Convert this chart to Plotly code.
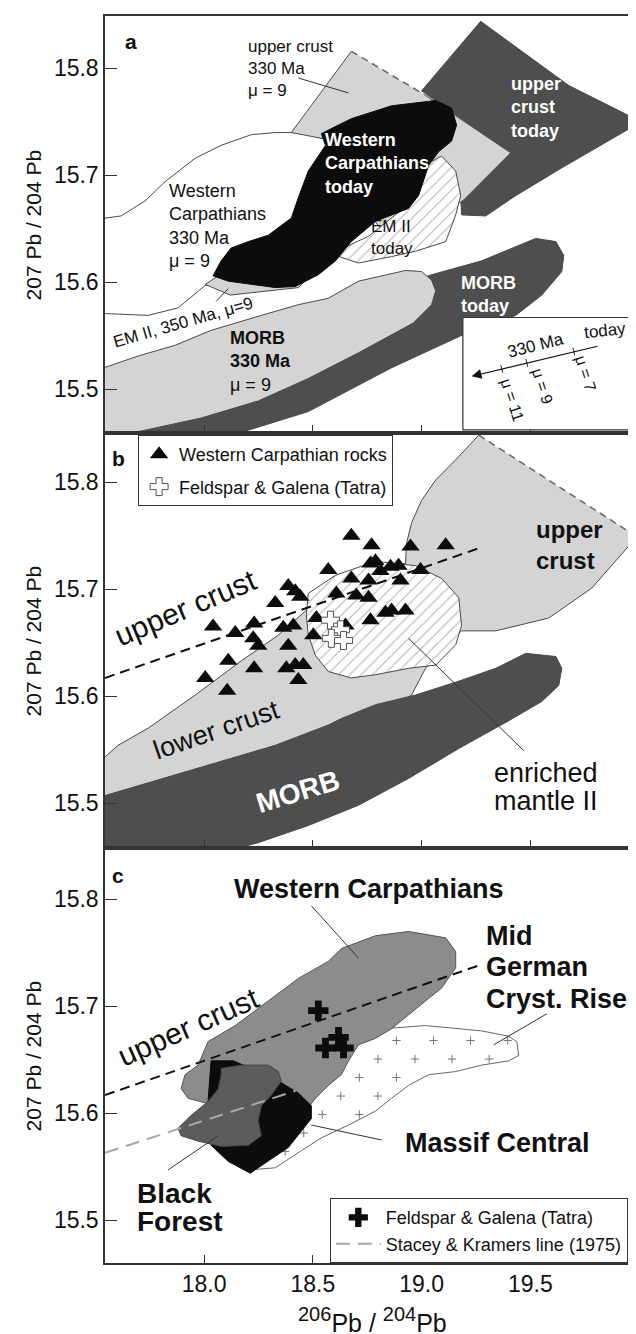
import plotly.graph_objects as go

# ------------------------------------------------------------------ data
# x = 206Pb/204Pb, y = 207Pb/204Pb

# ---- panel a
a_uc_today_x = [19.000, 19.272, 19.677, 20.010, 19.645, 19.433, 19.295, 19.184, 19.180, 19.401]
a_uc_today_y = [15.779, 15.844, 15.784, 15.750, 15.707, 15.681, 15.662, 15.663, 15.681, 15.721]

a_wc330_x = [17.51, 17.618, 17.728, 17.820, 17.959, 18.078, 18.217, 18.327, 18.447, 18.571, 18.618,
             18.479, 18.249, 18.005, 17.880, 17.742, 17.51]
a_wc330_y = [15.659, 15.662, 15.676, 15.694, 15.716, 15.728, 15.738, 15.740, 15.740, 15.733, 15.707,
             15.650, 15.604, 15.597, 15.576, 15.569, 15.571]

a_uc330_x = [19.009, 19.410, 19.194, 19.032, 18.848, 18.664, 18.581, 18.401, 18.677]
a_uc330_y = [15.776, 15.721, 15.677, 15.655, 15.641, 15.688, 15.733, 15.740, 15.816]

a_em350_x = [18.005, 18.120, 18.433, 18.618, 18.479, 18.157]
a_em350_y = [15.598, 15.588, 15.595, 15.632, 15.646, 15.618]

a_emt_x = [18.604, 18.710, 18.862, 18.972, 19.111, 19.157, 19.180, 19.157, 19.092, 19.009, 18.917, 18.756, 18.641]
a_emt_y = [15.625, 15.618, 15.624, 15.629, 15.638, 15.663, 15.681, 15.704, 15.718, 15.709, 15.669, 15.643, 15.632]

a_wct_x = [18.041, 18.078, 18.124, 18.203, 18.295, 18.401, 18.433, 18.479, 18.558, 18.539, 18.677, 18.862,
           19.065, 19.138, 19.161, 19.138, 19.078, 19.032, 18.986, 18.940, 18.788, 18.677, 18.604, 18.525,
           18.419, 18.327, 18.111]
a_wct_y = [15.606, 15.620, 15.632, 15.638, 15.644, 15.660, 15.679, 15.704, 15.728, 15.739, 15.753, 15.765,
           15.770, 15.763, 15.747, 15.732, 15.722, 15.709, 15.681, 15.669, 15.657, 15.638, 15.620, 15.607,
           15.596, 15.595, 15.601]

a_morbt_x = [17.51, 18.018, 18.479, 18.862, 19.203, 19.433, 19.553, 19.645, 19.654, 19.618, 19.525, 19.276,
             19.046, 18.710, 18.249, 17.51]
a_morbt_y = [15.450, 15.450, 15.479, 15.520, 15.552, 15.569, 15.588, 15.610, 15.625, 15.638, 15.641, 15.620,
             15.607, 15.585, 15.538, 15.482]

a_morb330_x = [17.51, 17.696, 17.866, 18.032, 18.263, 18.433, 18.571, 18.710, 18.926, 19.000, 19.046, 19.065,
               19.046, 18.963, 18.710, 18.479, 18.249, 17.986, 17.51]
a_morb330_y = [15.518, 15.531, 15.541, 15.555, 15.569, 15.579, 15.585, 15.601, 15.611, 15.610, 15.602, 15.592,
               15.579, 15.562, 15.534, 15.510, 15.489, 15.473, 15.452]

# ---- panel b
b_crust_x = [19.99, 19.783, 19.585, 19.341, 19.184, 19.078, 19.018, 18.954, 18.710, 18.249, 17.51, 17.51,
             17.604, 17.742, 17.959, 18.171, 18.341, 18.479, 18.618, 18.756, 18.926, 18.931, 18.954, 19.000,
             19.065, 19.157, 19.263]
b_crust_y = [15.749, 15.701, 15.673, 15.661, 15.661, 15.640, 15.626, 15.601, 15.570, 15.544, 15.500, 15.537,
             15.554, 15.570, 15.601, 15.633, 15.657, 15.682, 15.701, 15.720, 15.724, 15.743, 15.762, 15.783,
             15.802, 15.821, 15.844]

b_em_x = [18.470, 18.479, 18.604, 18.788, 18.972, 19.092, 19.171, 19.184, 19.157, 19.065, 18.940, 18.788,
          18.677, 18.571, 18.512, 18.479]
b_em_y = [15.676, 15.696, 15.713, 15.726, 15.722, 15.710, 15.692, 15.666, 15.648, 15.629, 15.626, 15.620,
          15.617, 15.623, 15.638, 15.657]

b_morb_x = [17.51, 17.710, 18.018, 18.327, 18.571, 18.631, 18.788, 18.972, 19.171, 19.341, 19.479, 19.618,
            19.645, 19.631, 19.553, 19.401, 19.171, 18.940, 18.710, 18.479, 18.249, 18.018, 17.51]
b_morb_y = [15.505, 15.517, 15.536, 15.554, 15.573, 15.579, 15.592, 15.601, 15.614, 15.626, 15.640, 15.637,
            15.626, 15.610, 15.595, 15.577, 15.551, 15.523, 15.498, 15.479, 15.463, 15.450, 15.450]

wc_rocks_x = [18.041, 18.143, 18.230, 18.226, 18.249, 18.327, 18.387, 18.419, 18.442, 18.364, 18.410, 18.387,
              18.111, 18.230, 18.378, 18.419, 18.456, 18.433, 18.005, 18.106, 18.516, 18.502, 18.571, 18.677,
              18.765, 18.788, 18.857, 18.894, 18.811, 18.756, 18.903, 18.995, 18.608, 18.700, 18.756, 18.765,
              18.834, 18.862, 18.926, 18.650, 18.677, 18.770, 18.949, 19.111]
wc_rocks_y = [15.665, 15.659, 15.668, 15.654, 15.647, 15.687, 15.703, 15.698, 15.693, 15.664, 15.666, 15.647,
              15.633, 15.626, 15.626, 15.629, 15.629, 15.615, 15.617, 15.605, 15.673, 15.657, 15.718, 15.710,
              15.724, 15.726, 15.721, 15.722, 15.717, 15.708, 15.708, 15.718, 15.696, 15.694, 15.692, 15.671,
              15.678, 15.680, 15.680, 15.666, 15.750, 15.741, 15.740, 15.741]

tatra_b_x = [18.581, 18.627, 18.585, 18.641]
tatra_b_y = [15.671, 15.662, 15.654, 15.652]

# ---- panel c
c_mgcr_x = [18.664, 18.756, 19.018, 19.276, 19.401, 19.438, 19.447, 19.401, 19.276, 19.157, 19.032, 18.940,
            18.862, 18.788, 18.664, 18.539, 18.447, 18.327, 18.203, 18.111, 18.157, 18.479]
c_mgcr_y = [15.664, 15.678, 15.682, 15.677, 15.672, 15.667, 15.654, 15.649, 15.645, 15.639, 15.636, 15.626,
            15.614, 15.602, 15.589, 15.577, 15.565, 15.549, 15.547, 15.555, 15.595, 15.623]

c_wc_x = [17.894, 17.912, 17.972, 18.018, 18.143, 18.327, 18.433, 18.571, 18.631, 18.788, 18.940, 19.111,
          19.157, 19.157, 19.092, 19.018, 18.940, 18.862, 18.788, 18.710, 18.664, 18.631, 18.571, 18.512,
          18.479, 18.295, 18.018, 17.926]
c_wc_y = [15.623, 15.636, 15.645, 15.667, 15.682, 15.710, 15.726, 15.742, 15.754, 15.766, 15.770, 15.764,
          15.751, 15.736, 15.717, 15.705, 15.692, 15.679, 15.670, 15.664, 15.649, 15.636, 15.626, 15.614,
          15.605, 15.605, 15.609, 15.614]

c_mc_x = [18.032, 18.134, 18.318, 18.433, 18.493, 18.493, 18.387, 18.212, 18.111, 18.032, 18.018]
c_mc_y = [15.649, 15.649, 15.633, 15.619, 15.607, 15.595, 15.568, 15.544, 15.555, 15.570, 15.611]

c_bf_x = [18.078, 18.171, 18.295, 18.341, 18.355, 18.309, 18.263, 18.249, 18.263, 18.203, 18.078, 17.972,
          17.894, 17.880, 17.940, 18.018, 18.065, 18.078]
c_bf_y = [15.642, 15.645, 15.645, 15.639, 15.630, 15.617, 15.607, 15.593, 15.579, 15.570, 15.569, 15.574,
          15.579, 15.586, 15.598, 15.611, 15.623, 15.636]

tatra_c_x = [18.525, 18.558, 18.618, 18.641]
tatra_c_y = [15.696, 15.661, 15.671, 15.661]

upper_crust_line_x = [17.544, 19.26]
upper_crust_line_y = [15.617, 15.738]
stacey_kramers_x = [17.544, 18.42]
stacey_kramers_y = [15.563, 15.621]

x_ticks = [18.0, 18.5, 19.0, 19.5]
x_tick_labels = ["18.0", "18.5", "19.0", "19.5"]
y_ticks = [15.5, 15.6, 15.7, 15.8]
y_tick_labels = ["15.5", "15.6", "15.7", "15.8"]

# ------------------------------------------------------------------ figure
FONT = "Liberation Sans, Arial, sans-serif"
LIGHT = "#d4d4d4"
DARK = "#4e4e4e"
EDGE = "#4a4a4a"
fig = go.Figure()


def poly(xs, ys, xa, ya, fill, line=EDGE, lw=1, dash_close=False, pattern=None):
    xc = list(xs) + [xs[0]]
    yc = list(ys) + [ys[0]]
    kw = dict(x=xc, y=yc, xaxis=xa, yaxis=ya, mode="lines", fill="toself",
              fillcolor=fill, hoverinfo="skip", showlegend=False)
    if pattern:
        kw["fillpattern"] = pattern
    if dash_close:
        kw["line"] = dict(width=0)
        fig.add_trace(go.Scatter(**kw))
        fig.add_trace(go.Scatter(x=list(xs), y=list(ys), xaxis=xa, yaxis=ya, mode="lines",
                                 line=dict(color=line, width=lw), hoverinfo="skip", showlegend=False))
        fig.add_trace(go.Scatter(x=[xs[-1], xs[0]], y=[ys[-1], ys[0]], xaxis=xa, yaxis=ya, mode="lines",
                                 line=dict(color="#666", width=1.5, dash="7px,5px"),
                                 hoverinfo="skip", showlegend=False))
    else:
        kw["line"] = dict(color=line, width=lw)
        fig.add_trace(go.Scatter(**kw))


HATCH = dict(shape="/", bgcolor="white", fgcolor="#666", size=8, solidity=0.13)

# panel a
poly(a_uc_today_x, a_uc_today_y, "x", "y", DARK)
poly(a_wc330_x, a_wc330_y, "x", "y", "white")
poly(a_uc330_x, a_uc330_y, "x", "y", LIGHT, dash_close=True)
poly(a_em350_x, a_em350_y, "x", "y", LIGHT)
poly(a_emt_x, a_emt_y, "x", "y", "white", pattern=HATCH)
poly(a_wct_x, a_wct_y, "x", "y", "#0c0c0c", line="#0c0c0c")
poly(a_morbt_x, a_morbt_y, "x", "y", DARK)
poly(a_morb330_x, a_morb330_y, "x", "y", LIGHT)

# panel b
poly(b_crust_x, b_crust_y, "x2", "y2", LIGHT, dash_close=True)
poly(b_morb_x, b_morb_y, "x2", "y2", DARK)
poly(b_em_x, b_em_y, "x2", "y2", "white", pattern=HATCH)
fig.add_trace(go.Scatter(x=upper_crust_line_x, y=upper_crust_line_y, xaxis="x2", yaxis="y2", mode="lines",
                         line=dict(color="#111", width=2, dash="10px,6px"), showlegend=False, hoverinfo="skip"))
fig.add_trace(go.Scatter(x=wc_rocks_x, y=wc_rocks_y, xaxis="x2", yaxis="y2", mode="markers",
                         name="Western Carpathian rocks", legend="legend", legendgroup="g1",
                         marker=dict(symbol="triangle-up", size=16, color="#0c0c0c")))
fig.add_trace(go.Scatter(x=tatra_b_x, y=tatra_b_y, xaxis="x2", yaxis="y2", mode="markers",
                         name="Feldspar & Galena (Tatra)", legend="legend", legendgroup="g2",
                         marker=dict(symbol="cross", size=15, color="white",
                                     line=dict(color="#555", width=1))))


# panel c
def inside(px, py, xs, ys):
    res = False
    n = len(xs)
    j = n - 1
    for i in range(n):
        if (ys[i] > py) != (ys[j] > py):
            xi = xs[i] + (py - ys[i]) * (xs[j] - xs[i]) / (ys[j] - ys[i])
            if px < xi:
                res = not res
        j = i
    return res


poly(c_mgcr_x, c_mgcr_y, "x3", "y3", "white", line="#666")
tex_x, tex_y = [], []
for j in range(-6, 12):
    for i in range(-12, 12):
        px = 19.055 + 0.1705 * i - 0.0853 * j
        py = 15.668 - 0.0173 * j
        if inside(px, py, c_mgcr_x, c_mgcr_y):
            tex_x.append(px)
            tex_y.append(py)
fig.add_trace(go.Scatter(x=tex_x, y=tex_y, xaxis="x3", yaxis="y3", mode="markers", showlegend=False,
                         hoverinfo="skip",
                         marker=dict(symbol="cross-thin", size=6, color="#777",
                                     line=dict(color="#777", width=1))))
poly(c_wc_x, c_wc_y, "x3", "y3", "#8c8c8c", line="#555")
poly(c_mc_x, c_mc_y, "x3", "y3", "#0c0c0c", line="#0c0c0c")
poly(c_bf_x, c_bf_y, "x3", "y3", "#5c5c5c", line="#444")
fig.add_trace(go.Scatter(x=stacey_kramers_x, y=stacey_kramers_y, xaxis="x3", yaxis="y3", mode="lines",
                         name="Stacey & Kramers line (1975)", legend="legend2", legendgroup="g4",
                         line=dict(color="#a8a8a8", width=2, dash="14px,8px")))
fig.add_trace(go.Scatter(x=upper_crust_line_x, y=upper_crust_line_y, xaxis="x3", yaxis="y3", mode="lines",
                         line=dict(color="#111", width=2, dash="10px,6px"), showlegend=False, hoverinfo="skip"))
fig.add_trace(go.Scatter(x=tatra_c_x, y=tatra_c_y, xaxis="x3", yaxis="y3", mode="markers",
                         name="Feldspar & Galena (Tatra)", legend="legend2", legendgroup="g3",
                         marker=dict(symbol="cross", size=17, color="#0c0c0c")))
fig.data[-1].legendrank = 1
fig.data[-3].legendrank = 2

# ------------------------------------------------------------------ annotations
ann = []


def A(x, y, text, xr, yr, size=18, color="#111", angle=0, xanchor="center", align="center", yanchor="middle"):
    ann.append(dict(x=x, y=y, xref=xr, yref=yr, text=text, showarrow=False, textangle=angle,
                    xanchor=xanchor, yanchor=yanchor, align=align,
                    font=dict(family=FONT, size=size, color=color)))


# panel a
A(17.664, 15.825, "<b>a</b>", "x", "y", 21)
A(18.194, 15.800, "upper crust<br>330 Ma<br>μ = 9", "x", "y", 17, xanchor="left", align="left")
A(17.829, 15.653, "Western<br>Carpathians<br>330 Ma<br>μ = 9", "x", "y", 18, xanchor="left", align="left")
A(18.548, 15.711, "<b>Western<br>Carpathians<br>today</b>", "x", "y", 18, color="white", xanchor="left", align="left")
A(18.756, 15.642, "EM II<br>today", "x", "y", 17, xanchor="left", align="left")
A(19.401, 15.763, "<b>upper<br>crust<br>today</b>", "x", "y", 18, color="white", xanchor="left", align="left")
A(19.171, 15.589, "<b>MORB<br>today</b>", "x", "y", 18, color="white", xanchor="left", align="left")
A(18.111, 15.526, "<b>MORB</b><br><b>330 Ma</b><br>μ = 9", "x", "y", 18, xanchor="left", align="left")
A(17.903, 15.562, "EM II, 350 Ma, μ=9", "x", "y", 17, angle=-16)
# inset legend in panel a
A(19.525, 15.541, "330 Ma", "x", "y", 17, angle=-14)
A(19.845, 15.555, "today", "x", "y", 17, angle=-6)
A(19.415, 15.490, "μ = 11", "x", "y", 16, angle=72)
A(19.553, 15.503, "μ = 9", "x", "y", 16, angle=72)
A(19.756, 15.515, "μ = 7", "x", "y", 16, angle=72)
ann.append(dict(x=19.230, y=15.512, ax=19.816, ay=15.5405, xref="x", yref="y", axref="x", ayref="y",
                text="", showarrow=True, arrowhead=2, arrowsize=1.8, arrowwidth=1.1, arrowcolor="#111"))

# panel b
A(17.604, 15.822, "<b>b</b>", "x2", "y2", 21)
A(17.915, 15.683, "upper crust", "x2", "y2", 30, angle=-23)
A(18.055, 15.568, "lower crust", "x2", "y2", 27, angle=-19)
A(18.433, 15.511, "<b>MORB</b>", "x2", "y2", 28, color="white", angle=-17)
A(19.516, 15.741, "<b>upper<br>crust</b>", "x2", "y2", 24, xanchor="left", align="left")
A(19.323, 15.528, "enriched", "x2", "y2", 27, xanchor="left")
A(19.323, 15.502, "mantle II", "x2", "y2", 27, xanchor="left")

# panel c
A(17.604, 15.822, "<b>c</b>", "x3", "y3", 21)
A(18.756, 15.810, "<b>Western Carpathians</b>", "x3", "y3", 27)
A(19.286, 15.766, "<b>Mid</b>", "x3", "y3", 27, xanchor="left")
A(19.286, 15.737, "<b>German</b>", "x3", "y3", 27, xanchor="left")
A(19.286, 15.707, "<b>Cryst. Rise</b>", "x3", "y3", 27, xanchor="left")
A(19.350, 15.572, "<b>Massif Central</b>", "x3", "y3", 27)
A(17.682, 15.525, "<b>Black</b>", "x3", "y3", 28, xanchor="left")
A(17.682, 15.499, "<b>Forest</b>", "x3", "y3", 28, xanchor="left")
A(17.930, 15.681, "upper crust", "x3", "y3", 30, angle=-24)

# axis titles
dom_a = [0.6656, 1.0]
dom_b = [0.3328, 0.6656]
dom_c = [0.0, 0.3328]
for d in (dom_a, dom_b, dom_c):
    A(-0.133, (d[0] + d[1]) / 2, "207 Pb / 204 Pb", "paper", "paper", 21, angle=-90)
A(0.5, -0.0457, "<sup><span style='font-size:20px'>206</span></sup>Pb / "
      "<sup><span style='font-size:20px'>204</span></sup>Pb", "paper", "paper", 25)

# ------------------------------------------------------------------ shapes
shapes = []


def L(x0, y0, x1, y1, xr, yr, w=1, color="#333"):
    shapes.append(dict(type="line", x0=x0, y0=y0, x1=x1, y1=y1, xref=xr, yref=yr,
                       line=dict(color=color, width=w)))


# leader lines
L(18.433, 15.791, 18.664, 15.777, "x", "y")
L(18.055, 15.582, 18.111, 15.594, "x", "y")
L(18.940, 15.654, 19.470, 15.549, "x2", "y2")
L(18.493, 15.794, 18.710, 15.745, "x3", "y3")
L(19.576, 15.693, 19.332, 15.664, "x3", "y3")
L(18.493, 15.589, 18.816, 15.575, "x3", "y3")
L(17.834, 15.547, 18.065, 15.579, "x3", "y3")
# inset box & ticks (panel a)
shapes.insert(0, dict(type="rect", x0=19.19, y0=15.462, x1=19.995, y1=15.567, xref="x", yref="y",
                      fillcolor="white", line=dict(color="#333", width=1.2), layer="above"))
for tx in (19.369, 19.484, 19.700):
    ty = 15.512 + (tx - 19.230) * 0.0495
    L(tx - 0.0044, ty + 0.0036, tx + 0.0044, ty - 0.0036, "x", "y", 1, "#222")

# ------------------------------------------------------------------ layout
xcommon = dict(range=[17.544, 20.0], showline=True, linecolor="#333", linewidth=1.5, mirror=True,
               ticks="inside", ticklen=8, tickwidth=1.2, tickcolor="#333", tickvals=x_ticks,
               ticktext=x_tick_labels, showgrid=False, zeroline=False,
               tickfont=dict(family=FONT, size=23, color="#111"))
ycommon = dict(showline=True, linecolor="#333", linewidth=1.5, ticks="inside", ticklen=12, tickwidth=1.2,
               tickcolor="#333", tickvals=y_ticks, ticktext=y_tick_labels, showgrid=False, zeroline=False,
               tickfont=dict(family=FONT, size=23, color="#111"))

fig.update_layout(
    width=636, height=1334,
    margin=dict(l=97, r=5, t=8, b=79),
    paper_bgcolor="white", plot_bgcolor="white",
    font=dict(family=FONT, color="#111"),
    xaxis=dict(xcommon, anchor="y", showticklabels=False),
    xaxis2=dict(xcommon, anchor="y2", showticklabels=False, matches="x"),
    xaxis3=dict(xcommon, anchor="y3", showticklabels=True, matches="x"),
    yaxis=dict(ycommon, domain=dom_a, range=[15.459, 15.849], anchor="x"),
    yaxis2=dict(ycommon, domain=dom_b, range=[15.458, 15.846], anchor="x2"),
    yaxis3=dict(ycommon, domain=dom_c, range=[15.460, 15.848], anchor="x3"),
    legend=dict(x=0.062, y=0.664, xanchor="left", yanchor="top", bgcolor="white", bordercolor="#333",
                borderwidth=1, font=dict(family=FONT, size=18, color="#111"), tracegroupgap=6,
                traceorder="grouped"),
    legend2=dict(x=0.421, y=0.052, xanchor="left", yanchor="top", bgcolor="white", bordercolor="#333",
                 borderwidth=1, font=dict(family=FONT, size=18, color="#111"), tracegroupgap=0,
                 traceorder="grouped", itemwidth=45),
    annotations=ann,
    shapes=shapes,
    showlegend=True,
)

fig.write_html("out.html")
